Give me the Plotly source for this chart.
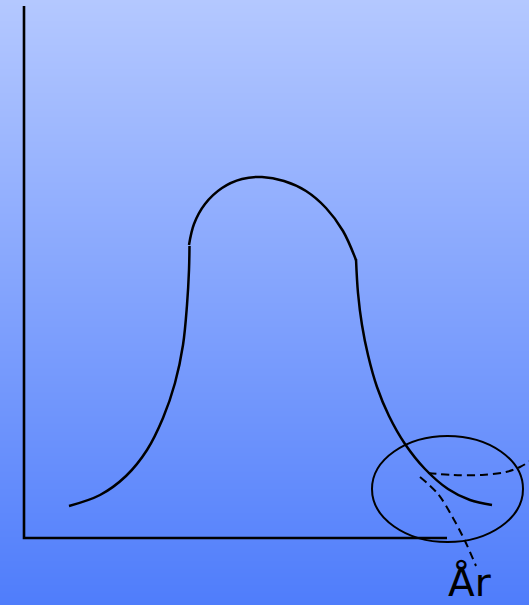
import numpy as np
import plotly.graph_objects as go

W, H = 529, 605

# curve pieces (pixel-like coordinates, y downwards)
rise_x = [69, 100, 126, 147, 163, 175, 183, 187, 189, 189.5]
rise_y = [506, 495, 476, 450, 418, 383, 345, 305, 270, 246]

arc_x = [189, 194, 205, 222, 242, 262, 284, 306, 326, 343, 356]
arc_y = [245, 224, 204, 188, 179, 177, 181, 191, 208, 231, 260]

fall_x = [356, 358, 362, 368, 377, 389, 405, 425, 448, 470, 492]
fall_y = [259, 293, 325, 355, 387, 416, 444, 469, 489, 500, 505]

# dashed guides in the zoom circle
dash1_x = [428, 452, 482, 506, 520, 533]
dash1_y = [473, 475, 475, 472, 467, 459]
dash2_x = [420, 438, 453, 465, 476]
dash2_y = [477, 494, 518, 541, 566]

# axes
axis_x = [24, 24, 447]
axis_y = [6, 538, 538]

# zoom ellipse
ell = dict(x0=372, x1=523, y0=436, y1=542)

label = "År"

fig = go.Figure()

# gradient background
rows = np.arange(0, H + 1, 5)
fig.add_trace(go.Heatmap(
    x=[0, W], y=rows, z=[[r, r] for r in rows],
    colorscale=[[0, "#b4c8ff"], [1, "#4f7dfb"]],
    showscale=False, hoverinfo="skip", zsmooth="best"))

fig.add_trace(go.Scatter(x=axis_x, y=axis_y, mode="lines",
                         line=dict(color="black", width=2.6)))
for xs, ys in [(rise_x, rise_y), (arc_x, arc_y), (fall_x, fall_y)]:
    fig.add_trace(go.Scatter(x=xs, y=ys, mode="lines",
                             line=dict(color="black", width=2.5, shape="spline")))
for xs, ys in [(dash1_x, dash1_y), (dash2_x, dash2_y)]:
    fig.add_trace(go.Scatter(x=xs, y=ys, mode="lines",
                             line=dict(color="black", width=2, dash="8px,5px", shape="spline")))

fig.add_shape(type="circle", xref="x", yref="y", **ell,
              line=dict(color="black", width=2))

fig.add_annotation(x=470, y=598, text=label, showarrow=False,
                   xanchor="center", yanchor="bottom", yshift=-9,
                   font=dict(family="DejaVu Sans", size=39, color="black"))

fig.update_xaxes(range=[0, W], visible=False, fixedrange=True)
fig.update_yaxes(range=[H, 0], visible=False, fixedrange=True)
fig.update_layout(width=W, height=H, margin=dict(l=0, r=0, t=0, b=0),
                  showlegend=False, plot_bgcolor="#7f9ffd", paper_bgcolor="#7f9ffd")

fig.write_html("out.html", config={"displayModeBar": False},
               post_script="document.body.style.margin='0';")
